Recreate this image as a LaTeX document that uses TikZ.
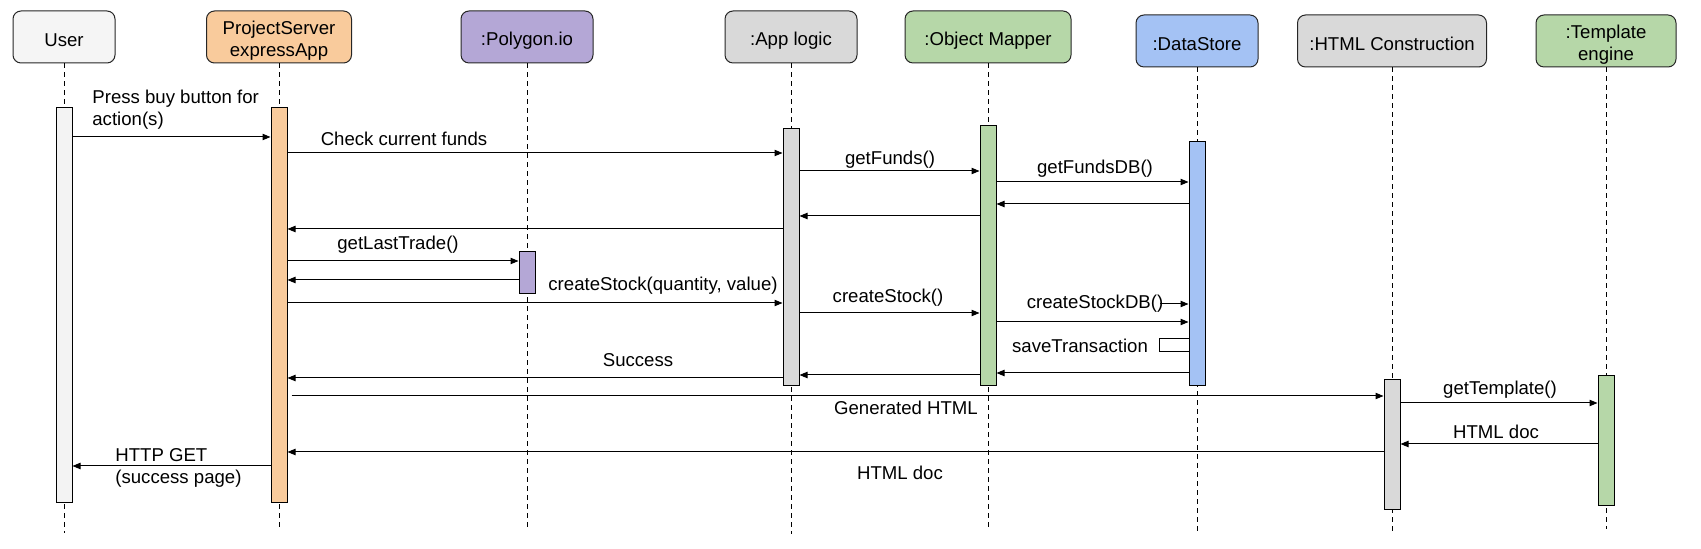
\documentclass[tikz,border=0pt]{standalone}
\usepackage{fontspec}
\setmainfont{Liberation Sans}
\usetikzlibrary{arrows.meta, positioning, calc}
\definecolor{userfill}{HTML}{F5F5F5}
\definecolor{userbarfill}{HTML}{F3F3F3}
\definecolor{psfill}{HTML}{F9CB9C}
\definecolor{polyfill}{HTML}{B4A7D6}
\definecolor{grayfill}{HTML}{D9D9D9}
\definecolor{greenfill}{HTML}{B6D7A8}
\definecolor{bluefill}{HTML}{A4C2F4}
\newcommand{\diagfont}{\fontsize{9.3}{11}\selectfont}

\tikzset{
    head/.style={draw=black!85, line width=0.5pt, rounded corners=4pt, minimum height=26pt, inner sep=0pt},
    headtxt/.style={align=center, inner sep=1pt, font=\diagfont},
    actbar/.style={draw=black, line width=0.5pt, minimum width=8pt, inner sep=0pt, anchor=north},
    life/.style={line width=0.5pt, dash pattern=on 2.5pt off 2pt},
    msg/.style={line width=0.5pt, -{Triangle[length=4pt,width=3.2pt]}},
    txt/.style={font=\diagfont, inner sep=1pt}
}

\begin{document}
\begin{tikzpicture}[x=0.5pt, y=-0.5pt]
    \useasboundingbox (0,0) rectangle (1701,549);

    % Participants and lifelines
    \foreach \n/\x/\y/\w/\c/\t/\e in {
        user/64/37/51/userfill/{User}/533,
        ps/279/37/72.5/psfill/{ProjectServer\\expressApp}/527,
        poly/527/37/66/polyfill/{:Polygon.io}/528,
        app/791/37/66/grayfill/{:App logic}/534,
        om/988/37/83/greenfill/{:Object Mapper}/529,
        ds/1197/41/61/bluefill/{:DataStore}/532,
        html/1392/41/94.5/grayfill/{:HTML Construction}/534,
        tpl/1606/41/70/greenfill/{:Template\\engine}/529} {
        \node[head, fill=\c, minimum width=\w pt] (\n) at (\x,\y) {};
        \node[headtxt] (\n-name) at ([yshift=-1.6pt]\n.center) {\t};
        \draw[life] (\n.south) -- (\x,\e);
    }

    % Activation bars
    \node[actbar, fill=userbarfill, minimum height=197.5pt] (userbar) at (64,107) {};
    \node[actbar, fill=psfill, minimum height=197.5pt] (psbar) at (279,107) {};
    \node[actbar, fill=polyfill, minimum height=21pt] (polybar) at (527,251) {};
    \node[actbar, fill=grayfill, minimum height=128.5pt] (appbar) at (791,128) {};
    \node[actbar, fill=greenfill, minimum height=130pt] (ombar) at (988,125) {};
    \node[actbar, fill=bluefill, minimum height=122pt] (dsbar) at (1197,141) {};
    \node[actbar, fill=grayfill, minimum height=65pt] (htmlbar) at (1392,379) {};
    \node[actbar, fill=greenfill, minimum height=65pt] (tplbar) at (1606,375) {};

    % Buy request and funds check
    \draw[msg] (userbar.east |- 0,137) -- (psbar.west |- 0,137);
    \node[txt, align=left, anchor=west] at (90,110) {Press buy button for\\action(s)};
    \draw[msg] (psbar.east |- 0,153) -- (appbar.west |- 0,153);
    \node[txt] at (404,139) {Check current funds};
    \draw[msg] (appbar.east |- 0,171) -- (ombar.west |- 0,171);
    \node[txt] at (890,160) {getFunds()};
    \draw[msg] (ombar.east |- 0,182) -- (dsbar.west |- 0,182);
    \node[txt] at (1095,169) {getFundsDB()};
    \draw[msg] (dsbar.west |- 0,204) -- (ombar.east |- 0,204);
    \draw[msg] (ombar.west |- 0,216) -- (appbar.east |- 0,216);
    \draw[msg] (appbar.west |- 0,229) -- (psbar.east |- 0,229);

    % Last trade from Polygon.io
    \draw[msg] (psbar.east |- 0,261) -- (polybar.west |- 0,261);
    \node[txt] at (398,245) {getLastTrade()};
    \draw[msg] (polybar.west |- 0,280) -- (psbar.east |- 0,280);

    % Stock creation
    \draw[msg] (psbar.east |- 0,303) -- (appbar.west |- 0,303);
    \node[txt] at (663,286) {createStock(quantity, value)};
    \draw[msg] (appbar.east |- 0,313) -- (ombar.west |- 0,313);
    \node[txt] at (888,298) {createStock()};
    \node[txt] (csdb) at (1095,304) {createStockDB()};
    \coordinate (csdbtail) at (1160,304);
    \draw[msg] (csdbtail) -- (dsbar.west |- csdbtail);
    \draw[msg] (ombar.east |- 0,322) -- (dsbar.west |- 0,322);
    \draw[line width=0.5pt] (dsbar.west |- 0,339) -- (1159,339) -- (1159,352) -- (dsbar.west |- 0,352);
    \node[txt] at (1080,346) {saveTransaction};
    \draw[msg] (dsbar.west |- 0,373) -- (ombar.east |- 0,373);
    \draw[msg] (ombar.west |- 0,375) -- (appbar.east |- 0,375);
    \draw[msg] (appbar.west |- 0,378) -- (psbar.east |- 0,378);
    \node[txt] at (638,360) {Success};

    % HTML construction
    \draw[msg] ([xshift=2pt]psbar.east |- 0,396) -- (htmlbar.west |- 0,396);
    \node[txt] at (906,408) {Generated HTML};
    \draw[msg] (htmlbar.east |- 0,403) -- (tplbar.west |- 0,403);
    \node[txt] at (1500,390) {getTemplate()};
    \draw[msg] (tplbar.west |- 0,444) -- (htmlbar.east |- 0,444);
    \node[txt] at (1496,432) {HTML doc};
    \draw[msg] (htmlbar.west |- 0,452) -- (psbar.east |- 0,452);
    \node[txt] at (900,473) {HTML doc};

    % Response to the user
    \draw[msg] (psbar.west |- 0,466) -- (userbar.east |- 0,466);
    \node[txt, align=left, anchor=west] at (113,468) {HTTP GET\\(success page)};
\end{tikzpicture}
\end{document}
